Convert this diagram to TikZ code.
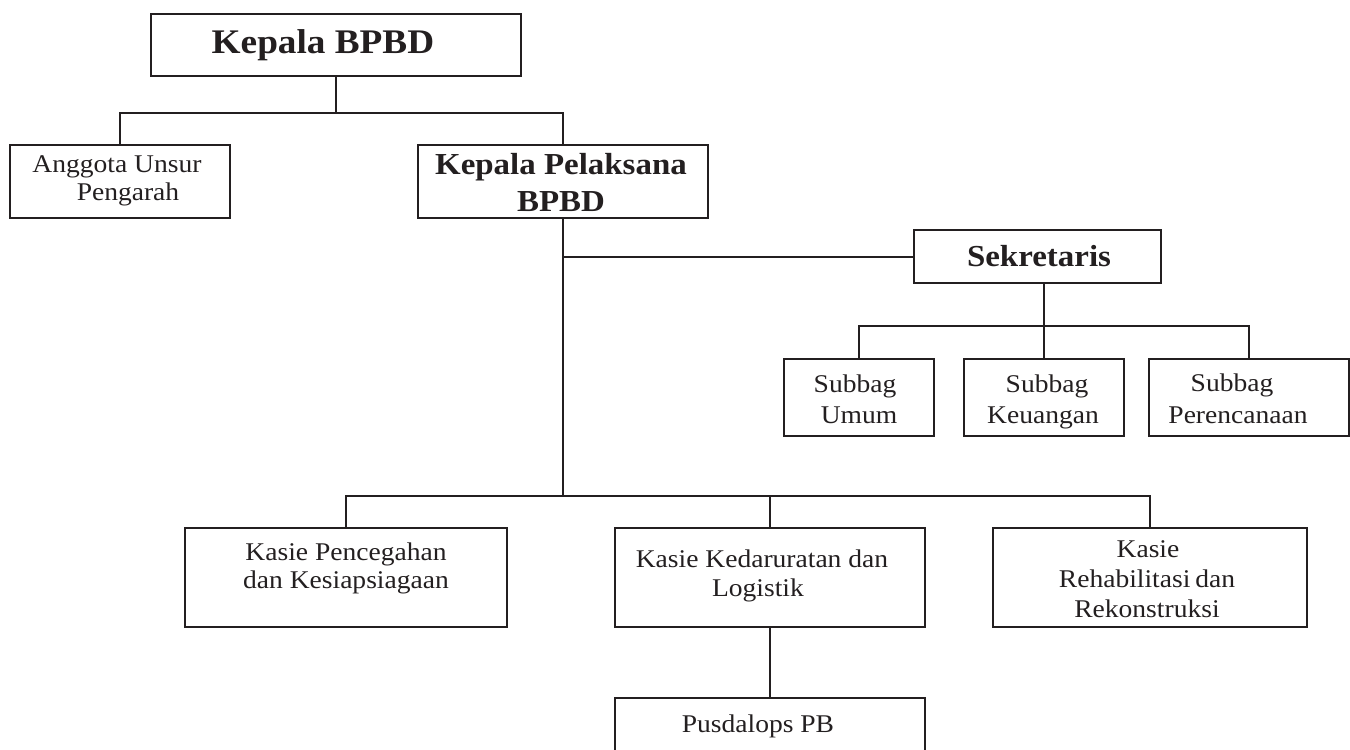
\documentclass[tikz,border=0pt]{standalone}
\usepackage{fontspec}
\setmainfont{Liberation Serif}[FakeStretch=1.08]
\definecolor{ink}{RGB}{35,31,32}
\begin{document}
\begin{tikzpicture}[x=1pt,y=-1pt,
  box/.style={draw=ink, line width=2pt, inner sep=0pt, anchor=north west},
  ln/.style={draw=ink, line width=2pt},
  txt/.style={anchor=base, inner sep=0pt, text=ink, font=\fontsize{25.5}{30}\selectfont},
  btxt/.style={anchor=base, inner sep=0pt, text=ink, font=\fontsize{30.5}{35}\selectfont\bfseries},
  htxt/.style={anchor=base, inner sep=0pt, text=ink, font=\fontsize{34.5}{40}\selectfont\bfseries}
]
\useasboundingbox (0,0) rectangle (1350,750);
\clip (0,0) rectangle (1350,750);

% boxes
\node[box, minimum width=370pt, minimum height=62pt] (kb) at (150,13) {};
\node[box, minimum width=220pt, minimum height=73pt] (ang) at (9,144) {};
\node[box, minimum width=290pt, minimum height=73pt] (kp) at (417,144) {};
\node[box, minimum width=247pt, minimum height=53pt] (sek) at (913,229) {};
\node[box, minimum width=150pt, minimum height=77pt] (su) at (783,358) {};
\node[box, minimum width=160pt, minimum height=77pt] (sk) at (963,358) {};
\node[box, minimum width=200pt, minimum height=77pt] (sp) at (1148,358) {};
\node[box, minimum width=322pt, minimum height=99pt] (kc) at (184,527) {};
\node[box, minimum width=310pt, minimum height=99pt] (kd) at (614,527) {};
\node[box, minimum width=314pt, minimum height=99pt] (kr) at (992,527) {};
\node[box, minimum width=310pt, minimum height=90pt] (pb) at (614,697) {};

% junction coordinates
\coordinate (j1) at (0,113);
\coordinate (js) at (0,326);
\coordinate (jb) at (0,496);

% connectors
\draw[ln] (kb.south) -- (kb.south |- j1);
\draw[ln] (ang.north) |- (kp.north |- j1) -- (kp.north);
\draw[ln] (kp.south) -- (kp.south |- jb);
\draw[ln] (kp.south |- sek.west) -- (sek.west);
\draw[ln] (sk.north |- sek.south) -- (sk.north);
\draw[ln] (su.north) |- (sp.north |- js) -- (sp.north);
\draw[ln] (kc.north) |- (kr.north |- jb) -- (kr.north);
\draw[ln] (kd.north |- jb) -- (kd.north);
\draw[ln] (kd.south) -- (pb.north);

% texts
\node[htxt] (t-kb) at (323,53) {Kepala BPBD};
\node[txt] (t-ang1) at (117,172) {Anggota Unsur};
\node[txt] (t-ang2) at (128,200) {Pengarah};
\node[btxt] (t-kp1) at (561,174) {Kepala Pelaksana};
\node[btxt] (t-kp2) at (561,211) {BPBD};
\node[btxt] (t-sek) at (1039,266) {Sekretaris};
\node[txt] (t-su1) at (855,392) {Subbag};
\node[txt] (t-su2) at (859,423) {Umum};
\node[txt] (t-sk1) at (1047,392) {Subbag};
\node[txt] (t-sk2) at (1043,423) {Keuangan};
\node[txt] (t-sp1) at (1232,391) {Subbag};
\node[txt] (t-sp2) at (1238,423) {Perencanaan};
\node[txt] (t-kc1) at (346,560) {Kasie Pencegahan};
\node[txt] (t-kc2) at (346,588) {dan Kesiapsiagaan};
\node[txt] (t-kd1) at (762,567) {Kasie Kedaruratan dan};
\node[txt] (t-kd2) at (758,596) {Logistik};
\node[txt] (t-kr1) at (1148,557) {Kasie};
\node[txt] (t-kr2) at (1147,587) {Rehabilitasi\kern-2pt{} dan};
\node[txt] (t-kr3) at (1147,617) {Rekonstruksi};
\node[txt] (t-pb) at (758,732) {Pusdalops PB};
\end{tikzpicture}
\end{document}
